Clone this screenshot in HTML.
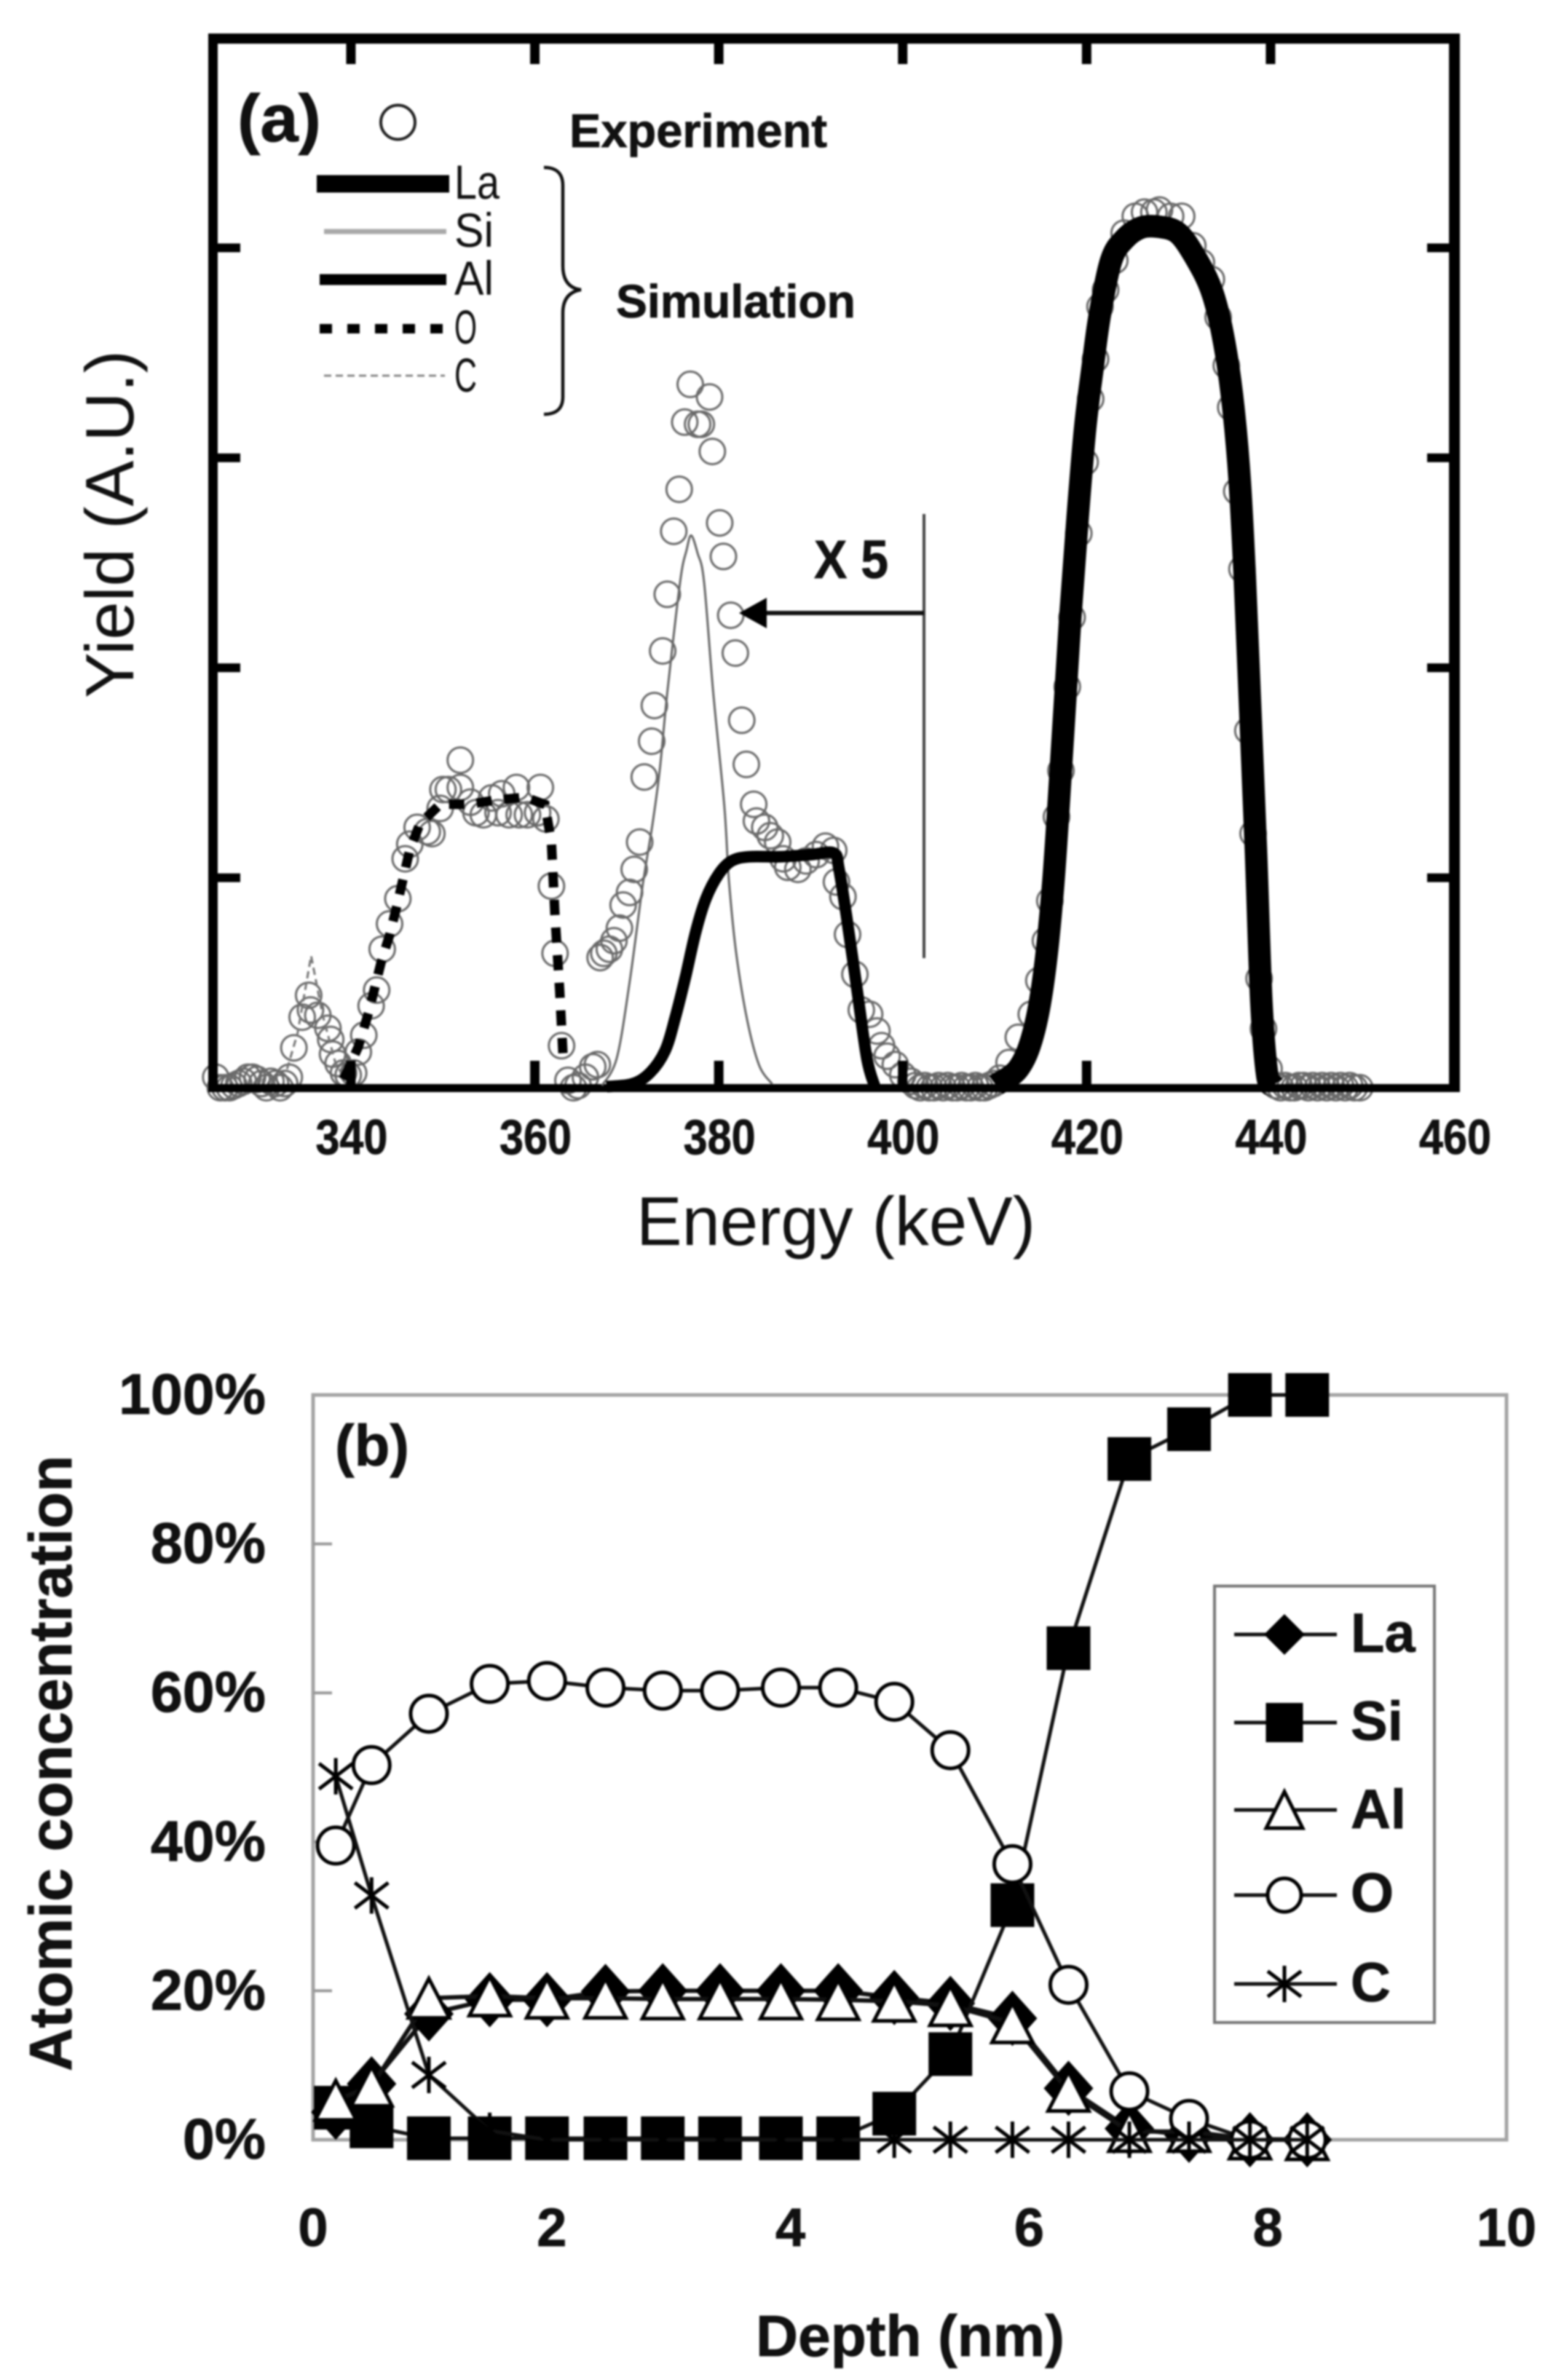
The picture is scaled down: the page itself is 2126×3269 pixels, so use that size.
<!DOCTYPE html>
<html lang="en">
<head>
<meta charset="utf-8">
<title>Yield and atomic concentration charts</title>
<style>
html,body{margin:0;padding:0;background:#fff;}
#figure{display:block;position:absolute;left:0;top:0;filter:blur(1.2px);}
text{font-family:"Liberation Sans",sans-serif;fill:#111;}
.b{font-weight:bold;stroke:#111;stroke-width:0.8px;}
</style>
</head>
<body>
<svg id="figure" xmlns="http://www.w3.org/2000/svg" width="2126" height="3269" viewBox="0 0 2126 3269">
  <rect x="0" y="0" width="2126" height="3269" fill="#fff"/>
  <g id="chartA"></g>
  <g id="annotA">
    <line x1="1269" y1="706" x2="1269" y2="1316" stroke="#444" stroke-width="4"/>
    <line x1="1269" y1="842" x2="1045" y2="842" stroke="#111" stroke-width="6"/>
    <polygon points="1015,842 1053,821 1053,863" fill="#000"/>
    <text class="b" x="1118" y="794" font-size="74" textLength="102" lengthAdjust="spacingAndGlyphs">X 5</text>
    <text class="b" x="326" y="194" font-size="92" textLength="115" lengthAdjust="spacingAndGlyphs">(a)</text>
    <circle cx="546.5" cy="168" r="23.5" fill="none" stroke="#222" stroke-width="4"/>
    <text class="b" x="782" y="202" font-size="65" textLength="354" lengthAdjust="spacingAndGlyphs">Experiment</text>
    <line x1="435" y1="252.5" x2="617" y2="252.5" stroke="#000" stroke-width="24"/>
    <line x1="445" y1="318" x2="613" y2="318" stroke="#aaa" stroke-width="7"/>
    <line x1="439" y1="384" x2="613" y2="384" stroke="#000" stroke-width="15"/>
    <line x1="439" y1="451.5" x2="613" y2="451.5" stroke="#000" stroke-width="13" stroke-dasharray="17 21"/>
    <line x1="445" y1="516" x2="611" y2="516" stroke="#888" stroke-width="3" stroke-dasharray="10 6"/>
    <text x="624" y="273" font-size="66" textLength="62" lengthAdjust="spacingAndGlyphs">La</text>
    <text x="624" y="339" font-size="66" textLength="54" lengthAdjust="spacingAndGlyphs">Si</text>
    <text x="624" y="405" font-size="66" textLength="54" lengthAdjust="spacingAndGlyphs">Al</text>
    <text x="624" y="472" font-size="66" textLength="31" lengthAdjust="spacingAndGlyphs">O</text>
    <text x="624" y="538" font-size="66" textLength="31" lengthAdjust="spacingAndGlyphs">C</text>
    <path d="M747 230 Q773 230 773 255 L773 365 Q773 395 798 398 Q773 402 773 430 L773 545 Q773 569 747 569" fill="none" stroke="#111" stroke-width="4.5"/>
    <text class="b" x="846" y="436" font-size="64" textLength="329" lengthAdjust="spacingAndGlyphs">Simulation</text>
    <text x="1148" y="1710" font-size="95" text-anchor="middle" textLength="548" lengthAdjust="spacingAndGlyphs" fill="#222">Energy (keV)</text>
    <text transform="translate(183 720) rotate(-90)" font-size="94" text-anchor="middle" textLength="478" lengthAdjust="spacingAndGlyphs">Yield (A.U.)</text>
  </g>
  <g id="chartB"></g>
  <g id="annotB">
    <text class="b" x="460" y="2013" font-size="80" textLength="102" lengthAdjust="spacingAndGlyphs">(b)</text>
    <text class="b" x="1250" y="3236" font-size="80" text-anchor="middle" textLength="424" lengthAdjust="spacingAndGlyphs">Depth (nm)</text>
    <text class="b" transform="translate(98 2422) rotate(-90)" font-size="83" text-anchor="middle" textLength="846" lengthAdjust="spacingAndGlyphs">Atomic concentration</text>
  </g>
</svg>
<script>
/* ---------- panel (a) data ---------- */
var aXTicks = [340, 360, 380, 400, 420, 440, 460];
var aYTicks = [1, 2, 3, 4];
var expE = [325.3,325.8,326.3,326.8,327.3,327.8,328.3,328.8,329.3,329.8,330.3,330.8,331.3,331.8,332.3,332.8,333.3,
  333.8,334.7,335.4,335.6,336.4,337.5,337.8,338,338.6,339.2,339.7,340.3,340.8,341.4,342.2,342.8,343.4,344.2,345.1,345.9,346.4,347.2,348.3,348.8,349.7,350,350.6,351.9,351.9,353,353.6,354.4,355.3,356,356.4,357.2,358,358.3,359.2,360.3,360.6,361.2,361.8,362.2,362.9,363.6,364.2,364.7,365.5,366.3,366.8,
  367.1,367.5,368.1,368.6,369.2,369.6,370.3,370.8,371.4,371.9,372.7,373,373.9,374.4,375.1,375.7,376.3,376.9,377.7,378.1,379,379.3,380.1,380.5,381.3,381.8,382.5,383,383.8,384.1,385,385.6,386.4,387,387.5,388.6,389.5,390.6,391.6,392.5,392.8,393.5,394,394.8,395.5,396.4,397.2,397.7,398.3,399.2,400,400.9,
  401.4,401.9,402.4,402.9,403.4,403.9,404.4,404.9,405.4,405.9,406.4,406.9,407.4,407.9,408.4,408.9,409.4,409.9,
  410.55,411.56,412.57,413.98,414.8,415.52,416,416.73,417.21,417.9,418.42,419.15,419.84,420.44,420.97,421.45,422.06,423.07,424.08,425.29,426.3,427.31,427.92,429.13,430.34,431.55,432.48,433.57,434.3,435.19,435.67,436.32,436.89,437.53,438.1,438.75,439.23,439.84,440.6,
  441.1,441.6,442.1,442.6,443.1,443.6,444.1,444.6,445.1,445.6,446.1,446.6,447.1,447.6,448.1,448.6,449.1,449.7];
var expY = [0.05,0,0,0,0.01,0.02,0.03,0.05,0.05,0.04,0.02,0,0.03,0.02,0,0.02,0.05,
  0.19,0.336,0.44,0.37,0.345,0.283,0.23,0.16,0.115,0.07,0.06,0.07,0.17,0.25,0.39,0.465,0.66,0.78,0.9,1.09,1.16,1.24,1.22,1.21,1.33,1.42,1.42,1.56,1.43,1.36,1.31,1.3,1.38,1.31,1.4,1.3,1.43,1.3,1.3,1.31,1.43,1.28,0.96,0.64,0.2,0.035,0,0.01,0.05,0.1,0.11,
  0.62,0.64,0.66,0.7,0.76,0.87,0.93,1.04,1.17,1.48,1.65,1.82,2.08,2.35,2.65,2.85,3.17,3.35,3.16,3.16,3.29,3.03,2.69,2.53,2.25,2.07,1.75,1.54,1.35,1.27,1.24,1.2,1.17,1.09,1.05,1.04,1.08,1.11,1.15,1.13,0.98,0.91,0.73,0.54,0.37,0.35,0.27,0.2,0.15,0.11,0.06,0.03,
  0.01,0,0.01,0,0,0.01,0,0.01,0,0,0.01,0,0,0.01,0,0,0.01,0.02,
  0.045,0.12,0.24,0.35,0.51,0.7,0.89,1.29,1.51,1.91,2.24,2.64,2.98,3.28,3.47,3.72,3.8,3.94,4.07,4.15,4.17,4.17,4.18,4.15,4.15,4.01,3.93,3.85,3.67,3.44,3.24,2.84,2.47,1.7,1.21,0.52,0.28,0.09,0.01,
  0,0.01,0,0,0.01,0.01,0,0.01,0,0.01,0,0.01,0,0.01,0,0.01,0,0];
var laE = [410.14,412.57,414.18,415.39,416.4,417.41,418.22,419.03,419.84,420.65,421.45,422.67,424.08,425.9,427.92,429.94,431.76,433.57,434.79,435.8,436.6,437.2,437.8,438.42,439,439.64,440.24];
var laY = [0.013,0.09,0.254,0.542,0.99,1.665,2.24,2.72,3.14,3.43,3.685,3.94,4.04,4.096,4.1,4.07,3.96,3.8,3.59,3.3,2.92,2.43,1.79,1.12,0.41,0.06,0.013];
var siE = [367.3,368.9,370.3,371.7,372.8,373.6,374.4,375.8,376.5,377,377.7,378.4,379.4,380.6,381.1,381.9,383.1,384.4,385.8];
var siY = [0.01,0.14,0.5,0.956,1.257,1.52,1.88,2.41,2.56,2.63,2.545,2.41,1.88,1.345,0.99,0.64,0.32,0.106,0.018];
var alE = [367.8,370.56,372.5,374.17,375.28,376.39,377.5,378.6,380,381.4,383.3,386.67,390,392.5,393.06,393.9,395,396.1,396.94];
var alY = [0.005,0.018,0.07,0.177,0.336,0.53,0.743,0.9,1.018,1.08,1.1,1.1,1.11,1.118,1.044,0.814,0.478,0.14,0.009];
var oE = [339.2,340.8,341.9,343.3,344.2,345,346.4,347.5,349.7,352.8,355.8,358.9,361.1,361.8,362.2,362.7,363.1];
var oY = [0.04,0.195,0.354,0.6,0.726,0.867,1.133,1.257,1.35,1.35,1.37,1.384,1.349,1.168,0.814,0.46,0.124];
var cE = [333.05,334.2,335.67,336.9,338.3,339.4];
var cY = [0.088,0.26,0.628,0.35,0.12,0.035];

/* ---------- panel (b) data ---------- */
var bXTicks = [0, 2, 4, 6, 8, 10];
var bYTicks = [0, 20, 40, 60, 80, 100];
var depth = [0.19,0.49,0.97,1.48,1.96,2.45,2.93,3.41,3.92,4.40,4.87,5.34,5.86,6.33,6.84,7.34,7.85,8.33];
var laPct = [3.7,7.5,16.9,18.8,18.8,19.9,20,20,20,20,19.1,18.3,16.3,6.9,1.5,0.6,0,0];
var siPct = [4.3,1.8,0.2,0.2,0.2,0.2,0.2,0.2,0.2,0.2,3.5,11.5,31.5,66,91.4,95.4,100,100];
var alPct = [5.3,7.2,19,19.3,19,19,18.9,18.9,18.9,18.8,18.6,18,15.7,6.5,1.1,1.1,0.1,0];
var oPct = [39.5,50.3,57.2,61.2,61.6,60.7,60.3,60.3,60.7,60.7,58.8,52.3,37,20.8,6.5,2.8,0,0];
var cPct = [48.8,32.8,8.7,1.2,0,0,0,0,0,0,0,0,0,0,0,0,0,0];

var NS = 'http://www.w3.org/2000/svg';
function make(parent, tag, attrs, txt) {
  var el = document.createElementNS(NS, tag);
  for (var k in attrs) { el.setAttribute(k, attrs[k]); }
  if (txt !== undefined) { el.textContent = txt; }
  parent.appendChild(el);
  return el;
}
function pointsOf(xs, ys, fx, fy) {
  var out = [];
  for (var i = 0; i < xs.length; i++) { out.push([fx(xs[i]), fy(ys[i])]); }
  return out;
}
function smoothPath(p) {
  var d = 'M' + p[0][0].toFixed(1) + ' ' + p[0][1].toFixed(1);
  for (var i = 0; i < p.length - 1; i++) {
    var a = p[Math.max(i - 1, 0)], b = p[i], c = p[i + 1], e = p[Math.min(i + 2, p.length - 1)];
    d += ' C' + (b[0] + (c[0] - a[0]) / 6).toFixed(1) + ' ' + (b[1] + (c[1] - a[1]) / 6).toFixed(1) + ' ' +
         (c[0] - (e[0] - b[0]) / 6).toFixed(1) + ' ' + (c[1] - (e[1] - b[1]) / 6).toFixed(1) + ' ' +
         c[0].toFixed(1) + ' ' + c[1].toFixed(1);
  }
  return d;
}
function straightPath(p) {
  return p.map(function (q, i) { return (i ? 'L' : 'M') + q[0].toFixed(1) + ' ' + q[1].toFixed(1); }).join(' ');
}

/* ---------- panel (a) drawing ---------- */
var ga = document.getElementById('chartA');
function xA(e) { return 292.5 + (e - 325) * 12.63; }
function yA(v) { return 1494 - v * 288.4; }

expE.forEach(function (e, i) {
  var c = make(ga, 'circle', { cx: xA(e).toFixed(1), cy: yA(expY[i]).toFixed(1), r: 17.5, fill: 'none', stroke: '#6a6a6a', 'stroke-width': 3 });
  
  
});

var frameParts = [
  ['frame-top', 286, 46, 1719, 14],
  ['frame-left', 286, 46, 13, 1454],
  ['frame-right', 1990, 46, 15, 1454],
  ['frame-bottom', 286, 1489, 1719, 11]
];
frameParts.forEach(function (f) {
  var r = make(ga, 'rect', { x: f[1], y: f[2], width: f[3], height: f[4], fill: '#000' });
  
  
});

aXTicks.forEach(function (t) {
  var px = xA(t);
  if (t < 460) {
    var top = make(ga, 'rect', { x: px - 6.5, y: 60, width: 13, height: 28, fill: '#000' });
    
    
    var bot = make(ga, 'rect', { x: px - 6.5, y: 1457, width: 13, height: 33, fill: '#000' });
    
    
  }
  var lab = make(ga, 'text', { x: px + 1, y: 1585, 'font-size': 68, 'font-weight': 'bold', stroke: '#111', 'stroke-width': 0.8, 'text-anchor': 'middle', textLength: 99, lengthAdjust: 'spacingAndGlyphs' }, String(t));
  
  
});
aYTicks.forEach(function (t) {
  var py = yA(t);
  var l = make(ga, 'rect', { x: 299, y: py - 6, width: 31, height: 12, fill: '#000' });
  
  
  var r = make(ga, 'rect', { x: 1960, y: py - 6, width: 30, height: 12, fill: '#000' });
  
  
});

var cLine = make(ga, 'path', { d: straightPath(pointsOf(cE, cY, xA, yA)), fill: 'none', stroke: '#777', 'stroke-width': 3, 'stroke-dasharray': '10 6' });


var siLine = make(ga, 'path', { d: smoothPath(pointsOf(siE, siY, xA, yA)), fill: 'none', stroke: '#666', 'stroke-width': 3 });


var oLine = make(ga, 'path', { d: straightPath(pointsOf(oE, oY, xA, yA)), fill: 'none', stroke: '#000', 'stroke-width': 13, 'stroke-dasharray': '21 17' });


var alLine = make(ga, 'path', { d: smoothPath(pointsOf(alE, alY, xA, yA)), fill: 'none', stroke: '#000', 'stroke-width': 16, 'stroke-linejoin': 'round' });


var laLine = make(ga, 'path', { d: smoothPath(pointsOf(laE, laY, xA, yA)), fill: 'none', stroke: '#000', 'stroke-width': 31, 'stroke-linejoin': 'round' });



/* ---------- panel (b) drawing ---------- */
var gb = document.getElementById('chartB');
function xB(d) { return 430 + d * 163.9; }
function yB(p) { return 2939 - p * 10.23; }

var bFrame = make(gb, 'rect', { x: 430, y: 1916, width: 1639, height: 1023, fill: 'none', stroke: '#a4a4a4', 'stroke-width': 5 });



bYTicks.forEach(function (t) {
  if (t > 0 && t < 100) {
    var tk = make(gb, 'line', { x1: 430, x2: 456, y1: yB(t), y2: yB(t), stroke: '#999', 'stroke-width': 4 });
    
    
  }
  var lab = make(gb, 'text', { x: 365, y: yB(t) + 26, 'font-size': 79, 'font-weight': 'bold', stroke: '#111', 'stroke-width': 0.8, 'text-anchor': 'end' }, t + '%');
  
  
});
bXTicks.forEach(function (t) {
  var lab = make(gb, 'text', { x: xB(t), y: 3085, 'font-size': 74, 'font-weight': 'bold', stroke: '#111', 'stroke-width': 0.8, 'text-anchor': 'middle' }, String(t));
  
  
});

function diamond(g, cx, cy, hw, hh) {
  return make(g, 'polygon', { points: cx + ',' + (cy - hh) + ' ' + (cx + hw) + ',' + cy + ' ' + cx + ',' + (cy + hh) + ' ' + (cx - hw) + ',' + cy, fill: '#000' });
}
function square(g, cx, cy, w, h) {
  return make(g, 'rect', { x: cx - w / 2, y: cy - h / 2, width: w, height: h, fill: '#000' });
}
function triangle(g, cx, cy, hw, hh) {
  return make(g, 'polygon', { points: cx + ',' + (cy - hh) + ' ' + (cx + hw) + ',' + (cy + hh) + ' ' + (cx - hw) + ',' + (cy + hh), fill: '#fff', stroke: '#000', 'stroke-width': 5, 'stroke-linejoin': 'miter' });
}
function ring(g, cx, cy, r) {
  return make(g, 'circle', { cx: cx, cy: cy, r: r, fill: '#fff', stroke: '#000', 'stroke-width': 5 });
}
function star(g, cx, cy, hw, hh) {
  var d = 'M' + cx + ' ' + (cy - hh) + ' L' + cx + ' ' + (cy + hh) +
          ' M' + (cx - hw) + ' ' + (cy - hh * 0.7) + ' L' + (cx + hw) + ' ' + (cy + hh * 0.7) +
          ' M' + (cx + hw) + ' ' + (cy - hh * 0.7) + ' L' + (cx - hw) + ' ' + (cy + hh * 0.7);
  return make(g, 'path', { d: d, fill: 'none', stroke: '#000', 'stroke-width': 5 });
}

var lineLa = make(gb, 'path', { d: straightPath(pointsOf(depth, laPct, xB, yB)), fill: 'none', stroke: '#111', 'stroke-width': 6 });


depth.forEach(function (d, i) {
  var m = diamond(gb, xB(d), yB(laPct[i]), 34, 38);
  
  
});
var lineSi = make(gb, 'path', { d: straightPath(pointsOf(depth, siPct, xB, yB)), fill: 'none', stroke: '#111', 'stroke-width': 5 });


depth.forEach(function (d, i) {
  var m = square(gb, xB(d), yB(siPct[i]), 60, 60);
  
  
});
var lineAl = make(gb, 'path', { d: straightPath(pointsOf(depth, alPct, xB, yB)), fill: 'none', stroke: '#111', 'stroke-width': 6 });


depth.forEach(function (d, i) {
  var m = triangle(gb, xB(d), yB(alPct[i]), 28, 27);
  
  
});
var lineO = make(gb, 'path', { d: straightPath(pointsOf(depth, oPct, xB, yB)), fill: 'none', stroke: '#111', 'stroke-width': 5 });


depth.forEach(function (d, i) {
  var m = ring(gb, xB(d), yB(oPct[i]), 25);
  
  
});
var lineC = make(gb, 'path', { d: straightPath(pointsOf(depth, cPct, xB, yB)), fill: 'none', stroke: '#111', 'stroke-width': 5 });


depth.forEach(function (d, i) {
  var m = star(gb, xB(d), yB(cPct[i]), 23, 25);
  
  
});

/* legend for panel (b) */
var legNames = ['La', 'Si', 'Al', 'O', 'C'];
var legBox = make(gb, 'rect', { x: 1668, y: 2178.5, width: 302, height: 599.5, fill: '#fff', stroke: '#777', 'stroke-width': 4 });


var legRowY = [2245, 2366, 2486, 2603, 2725];
var legTextY = [2269, 2390, 2511, 2626, 2749];
legNames.forEach(function (n, i) {
  var y = legRowY[i];
  var ln = make(gb, 'line', { x1: 1695, x2: 1836, y1: y, y2: y, stroke: '#111', 'stroke-width': 5 });
  
  
  var mk;
  if (n === 'La') { mk = diamond(gb, 1764, y, 28, 28); }
  if (n === 'Si') { mk = square(gb, 1764, y, 51, 54); }
  if (n === 'Al') { mk = triangle(gb, 1764, y, 25, 25); }
  if (n === 'O') { mk = ring(gb, 1764, y, 23); }
  if (n === 'C') { mk = star(gb, 1764, y, 23, 25); }
  
  
  var tx = make(gb, 'text', { x: 1855, y: legTextY[i], 'font-size': 76, 'font-weight': 'bold', stroke: '#111', 'stroke-width': 0.8 }, n);
  
  
});
</script>
</body>
</html>
